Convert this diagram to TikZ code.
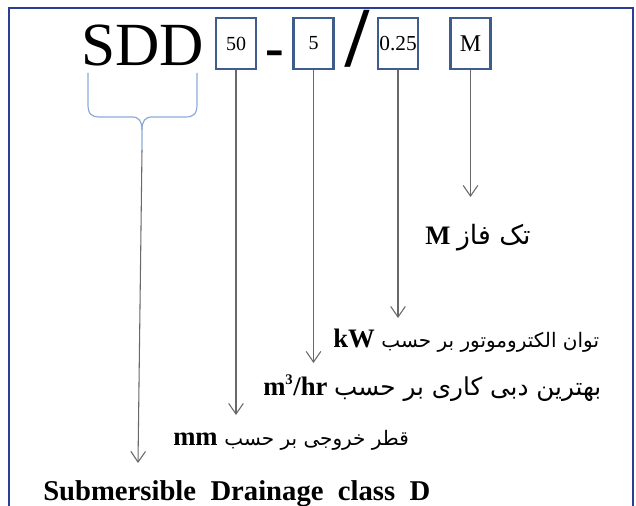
\documentclass[tikz,border=0pt]{standalone}
\usepackage{fontspec}
\setmainfont{Liberation Serif}
\newfontfamily\arabicfont[Script=Arabic]{DejaVu Sans}
\TeXXeTstate=1
\usetikzlibrary{arrows.meta}
\definecolor{framblue}{RGB}{44,62,146}
\definecolor{boxblue}{RGB}{62,92,140}
\definecolor{bracblue}{RGB}{140,170,215}
\definecolor{linegray}{RGB}{105,105,105}

\begin{document}
\begin{tikzpicture}[x=0.75pt,y=-0.75pt,
  codebox/.style={draw=boxblue, line width=1.9pt, minimum width=30pt, minimum height=38pt, inner sep=0pt},
  lbl/.style={inner sep=0pt, anchor=base west, font=\fontsize{20}{24}\selectfont},
  pointer/.style={draw=linegray, line width=0.8pt, -{Straight Barb[length=8pt,width=11pt]}}]
\useasboundingbox (0,0) rectangle (636,506);
\draw[framblue, line width=2pt] (9,506) -- (9,8) -- (633,8) -- (633,506);

% code
\node[inner sep=0pt, anchor=base west, font=\fontsize{46}{46}\selectfont] (sdd) at (81,66){SDD};
\node[codebox, font=\fontsize{15}{15}\selectfont] (cod50) at (236,43.5){50};
\node[inner sep=0pt, font=\bfseries\fontsize{42}{42}\selectfont] (dash) at (275,59){-};
\node[codebox, font=\fontsize{15}{15}\selectfont] (cod5) at (313.5,43.5){5};
\node[inner sep=0pt, font=\bfseries\fontsize{64}{64}\selectfont] (slash) at (357,39){/};
\node[codebox, font=\fontsize{16}{16}\selectfont] (cod025) at (398,43.5){0.25};
\node[codebox, font=\fontsize{18}{18}\selectfont] (codM) at (470.5,43.5){M};

% brace under SDD
\draw[bracblue, line width=0.9pt] (88,73) -- (88,104) .. controls (88,114) and (91,117) .. (100,117) -- (132,117)
  .. controls (139,117) and (142,121) .. (142,130) -- (142,150);
\draw[bracblue, line width=0.9pt] (197,73) -- (197,104) .. controls (197,114) and (194,117) .. (185,117) -- (152,117)
  .. controls (145,117) and (142,121) .. (142,130);
\coordinate (sddtip) at (142,150);

% labels
\node[lbl] (lblM) at (425,245){\textbf{M} {\arabicfont\fontsize{20}{24}\selectfont\beginR تک فاز\endR}};
\node[lbl] (lblP) at (333,347){\textbf{kW} {\arabicfont\fontsize{15}{18}\selectfont\beginR توان الکتروموتور بر حسب\endR}};
\node[lbl] (lblQ) at (263,395){\textbf{m\textsuperscript{\fontsize{11}{11}\selectfont 3}/hr} {\arabicfont\fontsize{18.5}{20}\selectfont\beginR بهترین دبی کاری بر حسب\endR}};
\node[lbl] (lblD) at (173,445){\textbf{mm} {\arabicfont\fontsize{15}{18}\selectfont\beginR قطر خروجی بر حسب\endR}};
\node[lbl, font=\fontsize{21.5}{24}\selectfont] (lblC) at (43,500){\textbf{Submersible\ \ Drainage\ \ class\ \ D}};

% pointers
\coordinate (endM) at (470.5,197);
\coordinate (end025) at (398,318);
\coordinate (end5) at (313.5,363);
\coordinate (end50) at (236,415);
\coordinate (endC) at (138,463);
\draw[pointer] (codM.south) -- (endM);
\draw[pointer] (cod025.south) -- (end025);
\draw[pointer] (cod5.south) -- (end5);
\draw[pointer] (cod50.south) -- (end50);
\draw[pointer] (sddtip) -- (endC);

\end{tikzpicture}
\end{document}
